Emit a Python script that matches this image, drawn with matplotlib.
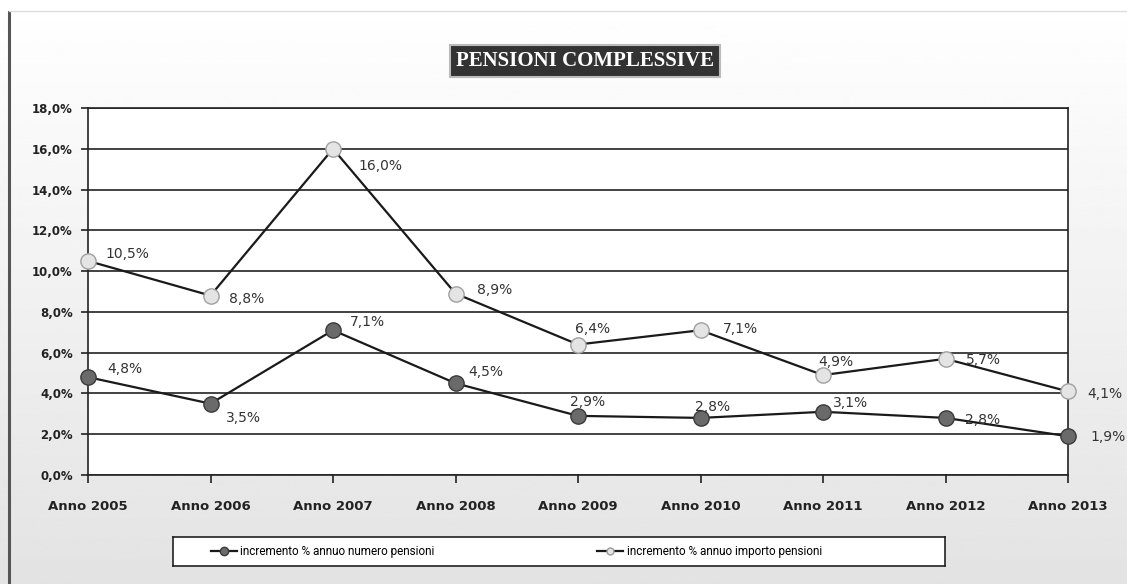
import matplotlib
matplotlib.use("Agg")
import matplotlib.pyplot as plt
import numpy as np
from matplotlib.lines import Line2D

categories = ["Anno 2005", "Anno 2006", "Anno 2007", "Anno 2008", "Anno 2009",
              "Anno 2010", "Anno 2011", "Anno 2012", "Anno 2013"]
numero = [4.8, 3.5, 7.1, 4.5, 2.9, 2.8, 3.1, 2.8, 1.9]
importo = [10.5, 8.8, 16.0, 8.9, 6.4, 7.1, 4.9, 5.7, 4.1]
yticks = [0, 2, 4, 6, 8, 10, 12, 14, 16, 18]
series_names = ["incremento % annuo numero pensioni", "incremento % annuo importo pensioni"]
title = "PENSIONI COMPLESSIVE"

# label offsets in pixels (dx, dy)
off_importo = [(17, 7), (18, -3), (25, -17), (21, 4), (-3, 16), (22, 1), (-5, 13), (20, -1), (19, -3)]
off_numero = [(19, 8), (15, -14), (17, 8), (13, 11), (-8, 14), (-5, 11), (10, 9), (20, -2), (22, -1)]

W, H = 1127, 584
fig = plt.figure(figsize=(W / 100, H / 100), dpi=100)

# background gradient
bg = fig.add_axes([0, 0, 1, 1], zorder=-10)
grad = np.linspace(1.0, 0.89, 256).reshape(-1, 1)
bg.imshow(grad, aspect="auto", cmap="gray", vmin=0, vmax=1, extent=[0, 1, 0, 1])
bg.set_xlim(0, 1); bg.set_ylim(0, 1)
bg.axis("off")
bg.plot([9 / W, 9 / W], [0, 1 - 12 / H], color="#555555", lw=2.2)
bg.plot([9 / W, 1], [1 - 11 / H, 1 - 11 / H], color="#dddddd", lw=1.0)

left, right = 88 / W, 1068 / W
bottom, top = 1 - 475 / H, 1 - 108 / H
ax = fig.add_axes([left, bottom, right - left, top - bottom])
ax.set_facecolor("white")

x = np.arange(len(categories))
ax.plot(x, importo, color="#1a1a1a", lw=1.6, marker="o", ms=11,
        mfc="#e4e4e4", mec="#a0a0a0", mew=1.0, zorder=3, clip_on=False)
ax.plot(x, numero, color="#1a1a1a", lw=1.6, marker="o", ms=11,
        mfc="#6a6a6a", mec="#3a3a3a", mew=1.0, zorder=3, clip_on=False)

for xi, v, (dx, dy) in zip(x, importo, off_importo):
    ax.annotate(f"{v:.1f}%".replace(".", ","), (xi, v), xytext=(dx, dy),
                textcoords="offset pixels", ha="left", va="center",
                fontsize=10, color="#333333", family="DejaVu Sans", zorder=4,
                annotation_clip=False)
for xi, v, (dx, dy) in zip(x, numero, off_numero):
    ax.annotate(f"{v:.1f}%".replace(".", ","), (xi, v), xytext=(dx, dy),
                textcoords="offset pixels", ha="left", va="center",
                fontsize=10, color="#333333", family="DejaVu Sans", zorder=4,
                annotation_clip=False)

ax.set_xlim(0, len(categories) - 1)
ax.set_ylim(0, 18)
ax.set_yticks(yticks)
ax.set_yticklabels([f"{t:.1f}%".replace(".", ",") for t in yticks],
                   fontsize=8.5, fontweight="bold", color="#222222")
ax.set_xticks(x)
ax.set_xticklabels(categories, fontsize=9.5, fontweight="bold", color="#222222")
ax.tick_params(axis="y", length=5, width=1.2, color="#222222", pad=6)
ax.tick_params(axis="x", length=6, width=1.2, color="#222222", pad=12)
ax.grid(axis="y", color="#222222", lw=1.2)
ax.set_axisbelow(True)
for s in ax.spines.values():
    s.set_color("#222222")
    s.set_linewidth(1.2)

# title box
fig.text(585 / W, 1 - 61 / H, title, ha="center", va="center",
         fontsize=15, fontweight="bold", color="white", family="Liberation Serif",
         bbox=dict(boxstyle="square,pad=0.3", fc="#333333", ec="#bbbbbb", lw=1.5))

# legend box
lg = fig.add_axes([173 / W, 1 - 566 / H, (945 - 173) / W, 29 / H])
lg.set_xlim(0, 1); lg.set_ylim(0, 1)
lg.set_xticks([]); lg.set_yticks([])
lg.set_facecolor("white")
for s in lg.spines.values():
    s.set_color("#222222")
    s.set_linewidth(1.2)
handles = [
    Line2D([], [], color="#1a1a1a", lw=1.6, marker="o", ms=6, mfc="#6a6a6a", mec="#3a3a3a"),
    Line2D([], [], color="#1a1a1a", lw=1.6, marker="o", ms=5, mfc="#e4e4e4", mec="#9a9a9a"),
]
lg.legend(handles, series_names, loc="center left", bbox_to_anchor=(0.035, 0.5),
          ncol=2, frameon=False, handlelength=2.2, handletextpad=0.3, columnspacing=13.8,
          prop=dict(family="Roboto", size=8.5))

fig.savefig("out.png", dpi=100)
